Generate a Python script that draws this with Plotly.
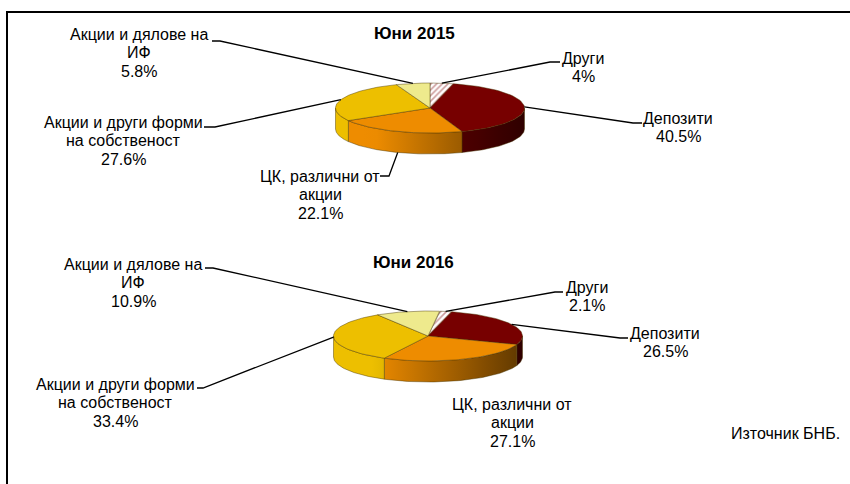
import numpy as np
import plotly.graph_objects as go

# ---- data ----
categories = ["Други", "Депозити", "ЦК, различни от акции",
              "Акции и други форми на собственост", "Акции и дялове на ИФ"]
label_lines = [["Други"], ["Депозити"], ["ЦК, различни от", "акции"],
               ["Акции и други форми", "на собственост"], ["Акции и дялове на", "ИФ"]]
values_2015 = [4, 40.5, 22.1, 27.6, 5.8]
values_2016 = [2.1, 26.5, 27.1, 33.4, 10.9]
title_2015 = "Юни 2015"
title_2016 = "Юни 2016"
source_note = "Източник БНБ."

# ---- styles and layout (pixel space) ----
FONT = "Liberation Sans"
FS = 16
LINE_PITCH = 18.7
TOP = ["#ffffff", "#770000", "#EE8C00", "#EDBF00", "#EEEA8D"]
EDGE = "rgba(70,50,0,0.55)"
A, B, DEPTH = 94.5, 25, 21

PIES = [
    dict(vals=values_2015, cx=430, cy=108, rot=0, title=title_2015, tpos=(414, 33),
         label_pos=[(583, 58), (678, 118), (320, 176), (123, 122), (139, 34)],
         elbow=[[(560, 62), (550, 62)], [(642, 123), (633, 123)], [(380, 176), (389, 176)],
                [(204, 127), (215, 127)], [(212, 41), (220, 41)]]),
    dict(vals=values_2016, cx=428, cy=336, rot=7, title=title_2016, tpos=(413, 262),
         label_pos=[(587, 287), (665, 333), (512, 404), (115, 384), (133, 264)],
         elbow=[[(563, 292), (555, 292)], [(628, 338), (620, 338)], None,
                [(197, 388), (203, 388)], [(205, 268), (213, 268)]]),
]


def shade(t):
    return float(np.clip(0.78 - 0.38 * t, 0.35, 1.0))


def scaled(hex_color, k):
    r, g, b = (int(hex_color[i:i + 2], 16) for i in (1, 3, 5))
    return f"rgb({int(r * k)},{int(g * k)},{int(b * k)})"


fig = go.Figure()
annotations = []


def add_text(x, y, text, size=FS):
    annotations.append(dict(
        x=x, y=y, xref="x", yref="y", showarrow=False, align="center",
        xanchor="center", yanchor="middle", text=text,
        font=dict(family=FONT, size=size, color="#000000")))


for pie in PIES:
    cx, cy, rot = pie["cx"], pie["cy"], pie["rot"]
    vals = np.array(pie["vals"], dtype=float)
    edges = rot + np.concatenate([[0], np.cumsum(vals)]) / vals.sum() * 360

    def px(deg):
        r = np.radians(deg)
        return cx + A * np.sin(r), cy - B * np.cos(r)

    # side walls of the front half
    for i in range(len(vals)):
        lo, hi = max(edges[i], 90), min(edges[i + 1], 270)
        if hi <= lo:
            continue
        th = np.linspace(lo, hi, 60)
        x, y = px(th)
        xs = np.concatenate([x, x[::-1], x[:1]])
        ys = np.concatenate([y, (y + DEPTH)[::-1], y[:1]])
        t0, t1 = (x.min() - cx) / A, (x.max() - cx) / A
        scale = [[f, scaled(TOP[i], shade(t0 + (t1 - t0) * f))] for f in np.linspace(0, 1, 9)]
        fig.add_trace(go.Scatter(
            x=xs, y=ys, mode="lines", fill="toself", hoverinfo="skip",
            line=dict(color=EDGE, width=0.8),
            fillgradient=dict(type="horizontal", colorscale=scale)))

    # top faces
    for i in range(len(vals)):
        th = np.linspace(edges[i], edges[i + 1], 60)
        x, y = px(th)
        xs = np.concatenate([[cx], x, [cx]])
        ys = np.concatenate([[cy], y, [cy]])
        kw = dict(fillcolor=TOP[i])
        if i == 0:
            kw["fillpattern"] = dict(shape="/", fgcolor="#9a3a3a", bgcolor="#ffffff",
                                     size=4, solidity=0.4)
        fig.add_trace(go.Scatter(
            x=xs, y=ys, mode="lines", fill="toself", hoverinfo="skip",
            line=dict(color=EDGE, width=0.8), **kw))

    # leader lines and labels
    for i, v in enumerate(vals):
        if pie["elbow"][i] is not None:
            mid = (edges[i] + edges[i + 1]) / 2
            ax, ay = px(mid)
            if 110 < mid % 360 < 250:
                ay += DEPTH
            (x0, y0), (x1, y1) = pie["elbow"][i]
            fig.add_trace(go.Scatter(
                x=[x0, x1, ax], y=[y0, y1, ay], mode="lines", hoverinfo="skip",
                line=dict(color="#000000", width=1.3)))
        lx, ly = pie["label_pos"][i]
        for k, line in enumerate(label_lines[i] + [f"{v:g}%"]):
            add_text(lx, ly + k * LINE_PITCH, line)

    add_text(pie["tpos"][0], pie["tpos"][1], f"<b>{pie['title']}</b>", size=17)

add_text(785, 433, source_note)

fig.update_layout(
    width=850, height=484, margin=dict(l=0, r=0, t=0, b=0), autosize=False,
    paper_bgcolor="#ffffff", plot_bgcolor="#ffffff", showlegend=False,
    font=dict(family=FONT, size=FS),
    xaxis=dict(range=[0, 850], visible=False, fixedrange=True),
    yaxis=dict(range=[484, 0], visible=False, fixedrange=True),
    annotations=annotations,
    shapes=[
        dict(type="line", xref="x", yref="y", x0=7, y0=12, x1=850, y1=12,
             line=dict(color="#000000", width=2)),
        dict(type="line", xref="x", yref="y", x0=7, y0=11, x1=7, y1=484,
             line=dict(color="#000000", width=2)),
    ],
)

fig.write_html("out.html", config=dict(displayModeBar=False),
               post_script="document.body.style.margin='0';")
